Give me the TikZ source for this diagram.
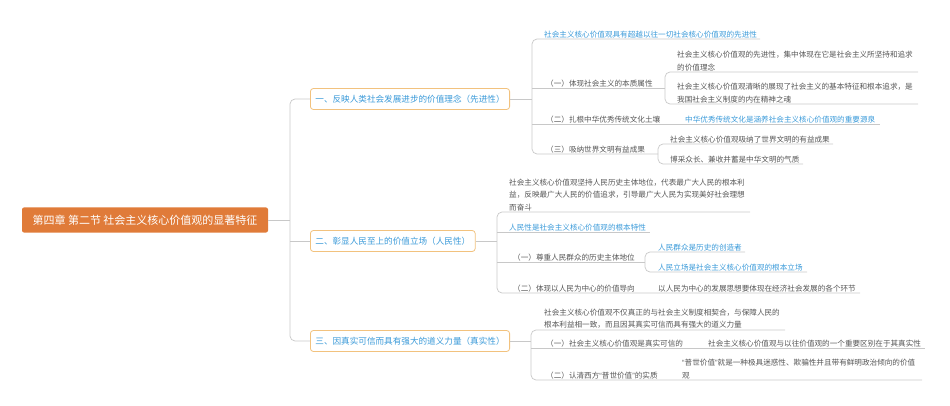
\documentclass[tikz,border=0pt]{standalone}
\usepackage{fontspec}
\setmainfont{Noto Sans CJK SC}
\newfontfamily\qf{Liberation Sans}
\newcommand{\myLq}{{\qf “}}
\newcommand{\myRq}{{\qf ”}}
\begin{document}
\definecolor{bl}{HTML}{3A9AD9}
\definecolor{gt}{HTML}{555555}
\definecolor{ln}{HTML}{C8C8C8}
\definecolor{org}{HTML}{E07B39}
\definecolor{obd}{HTML}{F2C27E}
\begin{tikzpicture}[x=1pt,y=-1pt,
  t/.style={anchor=south west,inner sep=1pt,align=left,text=gt,font=\fontsize{7.6}{12.5}\selectfont},
  tb/.style={t,text=bl},
  br/.style={draw=obd,rounded corners=3pt,fill=white,text=bl,font=\fontsize{8.6}{10}\selectfont,minimum height=21pt,inner xsep=5pt,line width=0.8pt},
  ul/.style={draw=ln,line width=0.7pt,rounded corners=5pt}]
\useasboundingbox (0,0) rectangle (950,406);
% root
\node[fill=org,text=white,rounded corners=2pt,minimum width=246pt,minimum height=25pt,font=\fontsize{11}{12}\selectfont] (root) at (145,220) {第四章 第二节 社会主义核心价值观的显著特征};
\node[br,anchor=west] (b1) at (310,99) {一、反映人类社会发展进步的价值理念（先进性）};
\node[br,anchor=west] (b2) at (310,241) {二、彰显人民至上的价值立场（人民性）};
\node[br,anchor=west] (b3) at (310,341) {三、因真实可信而具有强大的道义力量（真实性）};
\draw[ul] (root.east) -- (290,220);
\draw[ul] (b1.west) -- (290,99) -- (290,341) -- (b3.west);
\draw[ul] (290,241) -- (b2.west);
% branch 1
\draw[ul] (b1.east) -- (532,99);
\draw[ul] (760,39) -- (532,39) -- (532,154) -- (658,154);
\draw[ul] (532,88) -- (665,88);
\draw[ul] (532,124) -- (880,124);
\node[tb] (a1) at (543,39) {社会主义核心价值观具有超越以往一切社会核心价值观的先进性};
\node[t] (a2) at (545,88) {（一）体现社会主义的本质属性};
\draw[ul] (918,72) -- (665,72) -- (665,104) -- (918,104);
\node[t] (a21) at (676,72) {社会主义核心价值观的先进性，集中体现在它是社会主义所坚持和追求\\的价值理念};
\node[t] (a22) at (676,104) {社会主义核心价值观清晰的展现了社会主义的基本特征和根本追求，是\\我国社会主义制度的内在精神之魂};
\node[t] (a3) at (545,124) {（二）扎根中华优秀传统文化土壤};
\node[tb] (a31) at (684,124) {中华优秀传统文化是涵养社会主义核心价值观的重要源泉};
\node[t] (a4) at (545,154) {（三）吸纳世界文明有益成果};
\draw[ul] (833,144) -- (658,144) -- (658,164) -- (803,164);
\node[t] (a41) at (669,144) {社会主义核心价值观吸纳了世界文明的有益成果};
\node[t] (a42) at (669,164) {博采众长、兼收并蓄是中华文明的气质};
% branch 2
\draw[ul] (b2.east) -- (497,241);
\draw[ul] (750,212) -- (497,212) -- (497,293) -- (860,293);
\draw[ul] (497,232) -- (650,232);
\draw[ul] (497,262) -- (645,262);
\node[t] (c1) at (508,212) {社会主义核心价值观坚持人民历史主体地位，代表最广大人民的根本利\\益，反映最广大人民的价值追求，引导最广大人民为实现美好社会理想\\而奋斗};
\node[tb] (c2) at (508,232) {人民性是社会主义核心价值观的根本特性};
\node[t] (c3) at (512,262) {（一）尊重人民群众的历史主体地位};
\draw[ul] (745,252) -- (645,252) -- (645,272) -- (807,272);
\node[tb] (c31) at (657,252) {人民群众是历史的创造者};
\node[tb] (c32) at (657,272) {人民立场是社会主义核心价值观的根本立场};
\node[t] (c4) at (512,293) {（二）体现以人民为中心的价值导向};
\node[t] (c41) at (657,293) {以人民为中心的发展思想要体现在经济社会发展的各个环节};
% branch 3
\draw[ul] (b3.east) -- (531,341);
\draw[ul] (785,330) -- (531,330) -- (531,380) -- (922,380);
\draw[ul] (531,348) -- (925,348);
\node[t] (d1) at (543,330) {社会主义核心价值观不仅真正的与社会主义制度相契合，与保障人民的\\根本利益相一致，而且因其真实可信而具有强大的道义力量};
\node[t] (d2) at (545,348) {（一）社会主义核心价值观是真实可信的};
\node[t] (d21) at (707,348) {社会主义核心价值观与以往价值观的一个重要区别在于其真实性};
\node[t] (d3) at (545,380) {（二）认清西方\myLq 普世价值\myRq 的实质};
\node[t] (d31) at (681,380) {\myLq 普世价值\myRq 就是一种极具迷惑性、欺骗性并且带有鲜明政治倾向的价值\\观};
\end{tikzpicture}
\end{document}
